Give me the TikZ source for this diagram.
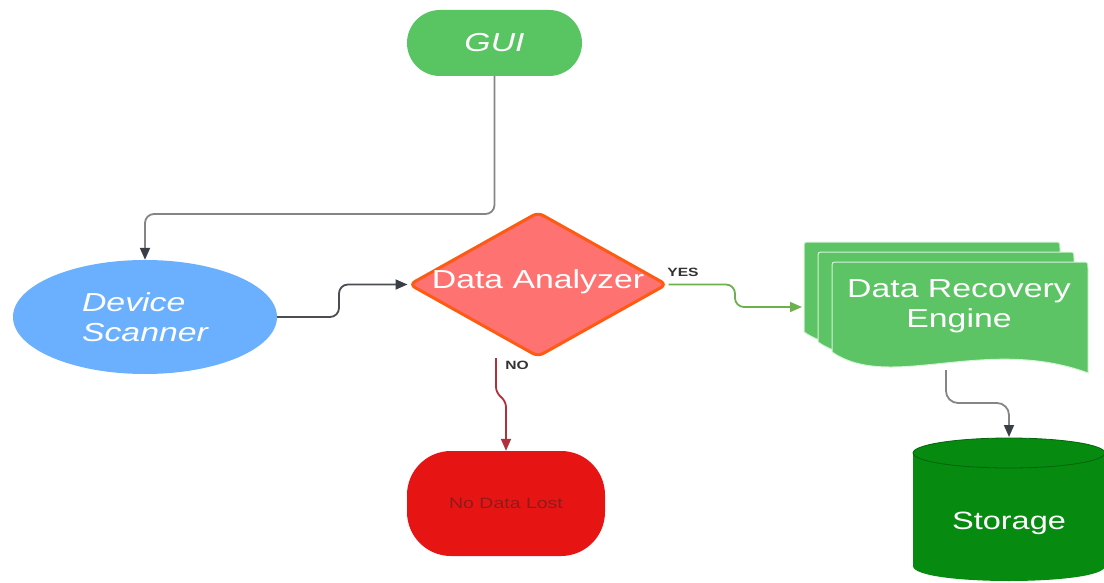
\documentclass[tikz,border=0pt]{standalone}
\usepackage{fontspec}
\newfontfamily\lsans[FakeStretch=1.3]{Liberation Sans}
\usetikzlibrary{shapes.geometric,arrows.meta}
\definecolor{guigreen}{HTML}{59C462}
\definecolor{docgreen}{HTML}{5CC464}
\definecolor{docline}{HTML}{D8F3DA}
\definecolor{devblue}{HTML}{6BB0FF}
\definecolor{diafill}{HTML}{FF7272}
\definecolor{diaborder}{HTML}{FF5A12}
\definecolor{nodred}{HTML}{E71414}
\definecolor{nodtext}{HTML}{8E1B1B}
\definecolor{stogreen}{HTML}{078A10}
\definecolor{stoline}{HTML}{04650B}
\definecolor{graylink}{HTML}{858585}
\definecolor{darklink}{HTML}{4A4D52}
\definecolor{tipdark}{HTML}{3A3E46}
\definecolor{yesgreen}{HTML}{6DB04E}
\definecolor{nored}{HTML}{B0303C}
\definecolor{lbldark}{HTML}{333333}
\tikzset{
  bigtext/.style={font=\lsans\fontsize{26}{30}\selectfont, text=white},
  conn/.style={line width=1.8pt, rounded corners=9pt},
  tipd/.style={-{Triangle[length=12pt,width=10pt,color=tipdark]}},
  smalllbl/.style={font=\lsans\bfseries\fontsize{12}{14}\selectfont, text=lbldark, inner sep=0pt},
}
\begin{document}
\begin{tikzpicture}[x=1pt,y=-1pt]
\useasboundingbox (0,0) rectangle (1104,583);

% GUI
\node[bigtext, fill=guigreen, rounded corners=33pt, minimum width=175pt, minimum height=66pt, inner sep=0pt]
  (gui) at (494.5,43) {\itshape GUI};

% Device Scanner
\node[bigtext, ellipse, fill=devblue, minimum width=264pt, minimum height=114pt, inner sep=0pt, align=left]
  (dev) at (145,317) {\itshape Device\\\itshape Scanner};

% Data Analyzer
\node[diamond, fill=diafill, draw=diaborder, line width=3pt, rounded corners=6pt,
      minimum width=258pt, minimum height=145pt, inner sep=0pt]
  (dia) at (538,284.5) {};
\node[bigtext, inner sep=0pt] (diatext) at (538,282) {Data Analyzer};

% Data Recovery Engine (multi-document)
\foreach \dx/\dy in {-28/-20,-14/-10,0/0}{
  \begin{scope}[shift={(\dx,\dy)}]
    \filldraw[fill=docgreen, draw=docline, line width=1pt]
      (832,352) -- (832,268) .. controls (832,262) .. (838,262) -- (1082,262)
      .. controls (1088,262) .. (1088,268) -- (1088,373)
      .. controls (985,335) and (890,392) .. (832,352) -- cycle;
  \end{scope}
}
\node[bigtext, align=center, inner sep=0pt] (dre) at (959,306) {Data Recovery\\Engine};
\coordinate (dreIn) at (802,307);
\coordinate (dreOut) at (946,370);

% Storage cylinder
\fill[stogreen] (913,453) -- (913,566) .. controls (913,586) and (1105,586) .. (1105,566) -- (1105,453) -- cycle;
\filldraw[fill=stogreen, draw=stoline, line width=0.8pt] (1009,453) ellipse [x radius=96, y radius=15];
\node[bigtext, font=\lsans\fontsize{25}{30}\selectfont, inner sep=0pt] (sto) at (1009,523) {Storage};
\coordinate (stoTop) at (1009,437);

% No Data Lost
\node[fill=nodred, rounded corners=44pt, minimum width=198pt, minimum height=105pt, inner sep=0pt,
      font=\lsans\fontsize{15}{18}\selectfont, text=nodtext]
  (nod) at (506,503.5) {No Data Lost};
\coordinate (noStart) at (496,358);

% Connectors
\draw[conn, graylink, tipd] (gui.south) -- (494.5,214) -| (dev.north);
\draw[conn, darklink, tipd] (dev.east) -- (339,317) |- (dia.west);
\draw[conn, yesgreen, -{Triangle[length=12pt,width=10pt]}] (dia.east) -- (735,284.5) |- (dreIn);
\draw[conn, nored, rounded corners=6pt, -{Triangle[length=12pt,width=10pt]}]
  (noStart) -- (496,393) -- (506,401) -- (nod.north);
\draw[conn, graylink, rounded corners=12pt, tipd] (dreOut) -- (946,403) -| (stoTop);

% Labels
\node[smalllbl] (yes) at (683,272) {YES};
\node[smalllbl] (no) at (517,365) {NO};
\end{tikzpicture}
\end{document}
